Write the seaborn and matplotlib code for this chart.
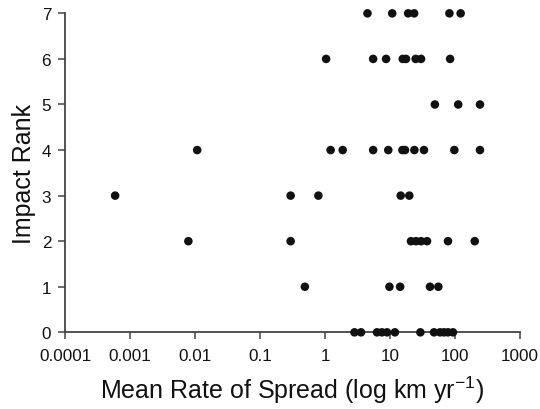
import matplotlib
matplotlib.use("Agg")
import matplotlib.pyplot as plt
import seaborn as sns
import pandas as pd
import numpy as np

# Data: mean rate of spread (km/yr) grouped by impact rank
rank7 = [4.5, 10.8, 19.0, 23.5, 82, 122]
rank6 = [1.04, 5.5, 8.7, 15.7, 17.6, 24.8, 30, 84]
rank5 = [49, 112, 242]
rank4 = [0.0108, 1.22, 1.87, 5.5, 9.4, 15.5, 17.0, 23.7, 33.3, 97.6, 242]
rank3 = [0.00059, 0.296, 0.79, 14.6, 19.8]
rank2 = [0.0079, 0.296, 21, 25.1, 30, 37.1, 78, 201]
rank1 = [0.49, 9.8, 14.3, 41.2, 55.4]
rank0 = [2.84, 3.58, 6.3, 7.5, 9.0, 11.9, 29.3, 47.5, 58.8, 67.7, 78, 93]

x_ticks = [0.0001, 0.001, 0.01, 0.1, 1, 10, 100, 1000]
x_tick_labels = ["0.0001", "0.001", "0.01", "0.1", "1", "10", "100", "1000"]
y_ticks = [0, 1, 2, 3, 4, 5, 6, 7]

groups = {7: rank7, 6: rank6, 5: rank5, 4: rank4, 3: rank3, 2: rank2, 1: rank1, 0: rank0}
rows = [(v, r) for r, vals in groups.items() for v in vals]
df = pd.DataFrame(rows, columns=["rate", "rank"])

sns.set_style("ticks")
plt.rcParams["font.family"] = ["Liberation Sans", "DejaVu Sans"]
plt.rcParams["mathtext.default"] = "regular"

fig = plt.figure(figsize=(5.4, 4.1), dpi=100)
ax = fig.add_axes([0.1204, 0.187, 0.963 - 0.1204, 0.965 - 0.187])

sns.scatterplot(data=df, x="rate", y="rank", ax=ax, color="#111111",
                s=38, edgecolor="none", linewidth=0, clip_on=False, zorder=3)

ax.set_xscale("log")
ax.set_xlim(1e-4, 1e3)
ax.set_ylim(0, 7)
ax.set_xticks(x_ticks)
ax.set_xticklabels(x_tick_labels)
ax.set_yticks(y_ticks)
ax.xaxis.set_minor_locator(matplotlib.ticker.NullLocator())

for s in ["top", "right"]:
    ax.spines[s].set_visible(False)
for s in ["left", "bottom"]:
    ax.spines[s].set_color("#444444")
    ax.spines[s].set_linewidth(1.3)

ax.tick_params(axis="both", direction="out", length=5, width=1.1, color="#444444",
               labelsize=12.3, labelcolor="#111111")
ax.tick_params(axis="x", pad=6)
ax.tick_params(axis="y", pad=5)

ax.set_xlabel("Mean Rate of Spread (log km yr$^{-1}$)", fontsize=18, color="#111111", labelpad=8)
ax.set_ylabel("Impact Rank", fontsize=18, color="#111111", labelpad=4)

fig.savefig("out.png", dpi=100)
